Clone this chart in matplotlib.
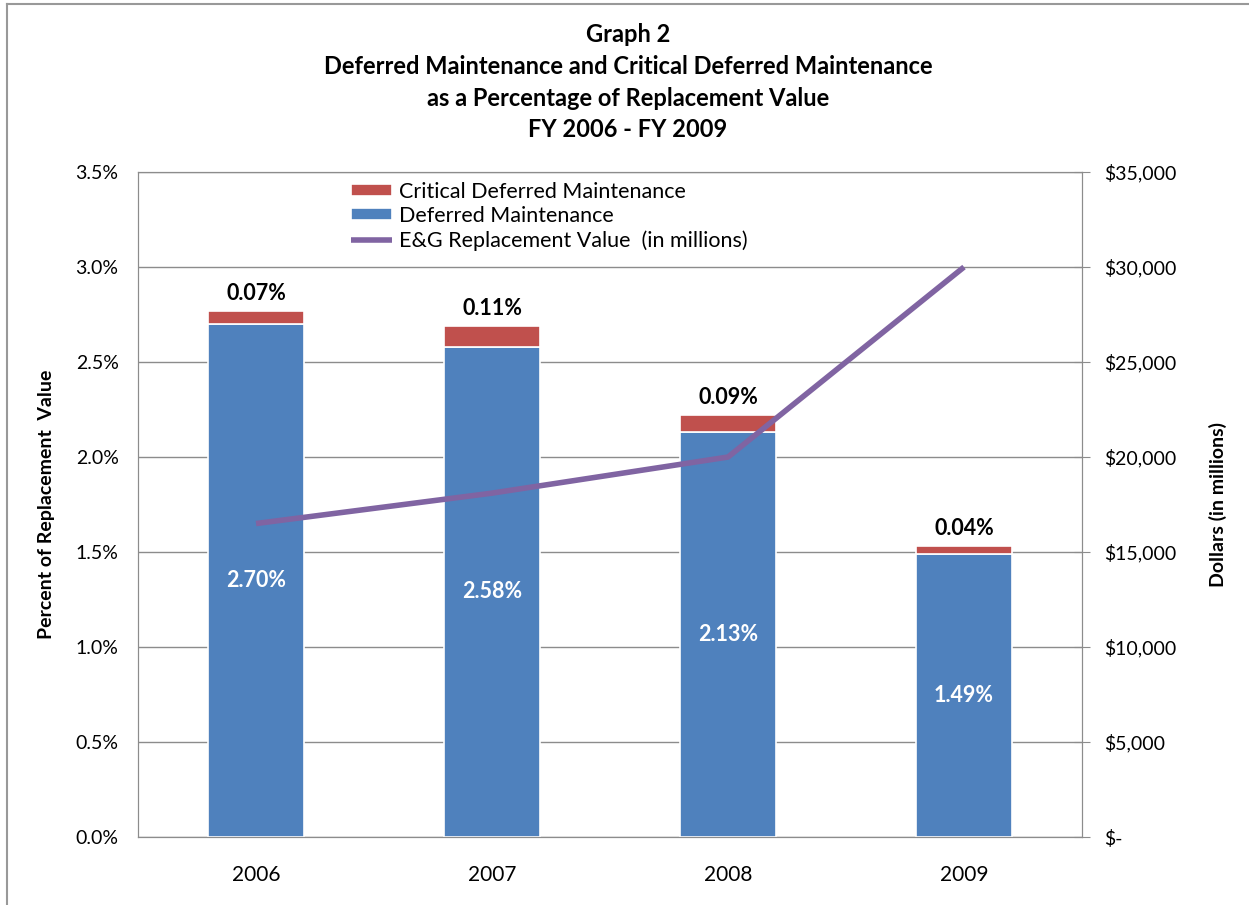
import matplotlib
matplotlib.use('Agg')
from matplotlib import pyplot as plt
from matplotlib.lines import Line2D
from matplotlib.ticker import FuncFormatter
import numpy as np

years = ['2006', '2007', '2008', '2009']
deferred = [2.70, 2.58, 2.13, 1.49]
critical = [0.07, 0.11, 0.09, 0.04]
replacement = [16500, 18100, 20000, 30000]

blue = '#4F81BD'
red = '#C0504D'
purple = '#8064A2'
grid_gray = '#8C8C8C'

plt.rcParams['font.family'] = ['Lato', 'DejaVu Sans']

fig = plt.figure(figsize=(12.49, 9.05), dpi=100)
ax = fig.add_axes([0.1105, 0.0751, 0.7558, 0.7348])
ax2 = ax.twinx()

# chart border (left and top edges visible)
fig.add_artist(Line2D([7 / 1249, 7 / 1249], [0, 1 - 4 / 905], color='#999999', lw=1.5,
                      transform=fig.transFigure))
fig.add_artist(Line2D([7 / 1249, 1], [1 - 4 / 905, 1 - 4 / 905], color='#999999', lw=1.5,
                      transform=fig.transFigure))

x = np.arange(len(years))
width = 0.41
ax.bar(x, deferred, width, color=blue, edgecolor='white', linewidth=1.2, zorder=3,
       label='Deferred Maintenance')
ax.bar(x, critical, width, bottom=deferred, color=red, edgecolor='white', linewidth=1.2,
       zorder=3, label='Critical Deferred Maintenance')

for i in range(len(years)):
    ax.text(x[i], deferred[i] / 2, '%.2f%%' % deferred[i], ha='center', va='center',
            color='white', fontsize=15.5, fontweight='bold', zorder=4)
    ax.annotate('%.2f%%' % critical[i], (x[i], deferred[i] + critical[i]),
                xytext=(0, 12.5), textcoords='offset points', ha='center', va='center',
                color='black', fontsize=15.5, fontweight='bold', zorder=4)

ax.set_xlim(-0.5, 3.5)
ax.set_ylim(0, 3.5)
ax.set_yticks(np.arange(0, 3.51, 0.5))
ax.yaxis.set_major_formatter(FuncFormatter(lambda v, p: '%.1f%%' % v))
ax.set_xticks(x)
ax.set_xticklabels(years)
ax.tick_params(axis='x', length=0, pad=20, labelsize=15)
ax.tick_params(axis='y', length=0, pad=14, labelsize=14)
ax.grid(axis='y', color=grid_gray, lw=1, zorder=0)
ax.set_axisbelow(True)
for s in ax.spines.values():
    s.set_color(grid_gray)
ax.set_ylabel('Percent of Replacement  Value', fontsize=14, fontweight='bold')
ax.yaxis.set_label_coords(-0.088, 0.5)

ax2.plot(x, replacement, color=purple, lw=4, zorder=5,
         label='E&G Replacement Value  (in millions)', solid_capstyle='butt')
ax2.set_ylim(0, 35000)
ax2.set_yticks(np.arange(0, 35001, 5000))
ax2.yaxis.set_major_formatter(FuncFormatter(lambda v, p: '$-' if v == 0 else '${:,.0f}'.format(v)))
ax2.tick_params(axis='y', direction='inout', length=12, color=grid_gray, pad=10, labelsize=14)
for s in ax2.spines.values():
    s.set_color(grid_gray)
ax2.set_ylabel('Dollars (in millions)', fontsize=14, fontweight='bold')
ax2.yaxis.set_label_coords(1.134, 0.5)

h1, l1 = ax.get_legend_handles_labels()
h2, l2 = ax2.get_legend_handles_labels()
leg = ax.legend([h1[1], h1[0], h2[0]], [l1[1], l1[0], l2[0]], loc='upper left',
                bbox_to_anchor=(0.212, 1.005), frameon=False, fontsize=15.5,
                handlelength=1.9, handleheight=0.5, labelspacing=0.2, handletextpad=0.35,
                borderaxespad=0.2)
leg.set_zorder(10)

title_lines = ['Graph 2',
               'Deferred Maintenance and Critical Deferred Maintenance',
               'as a Percentage of Replacement Value',
               'FY 2006 - FY 2009']
for k, line in enumerate(title_lines):
    fig.text(628 / 1249, 1 - (35 + 31.5 * k) / 905, line, ha='center', va='center',
             fontsize=17, fontweight='bold')

fig.savefig('out.png', dpi=100)
